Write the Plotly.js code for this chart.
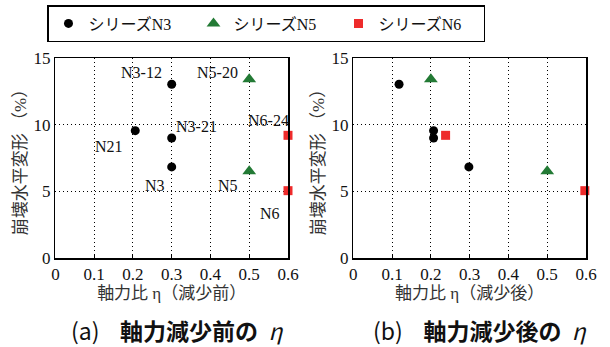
<!DOCTYPE html>
<html><head><meta charset="utf-8">
<script src="https://cdn.plot.ly/plotly-3.0.1.min.js"></script>
<style>body{margin:0;padding:0;background:#fff}#chart{width:610px;height:347px}</style>
</head><body><div id="chart"></div>
<script>
// Panel (a): axial force ratio before reduction
const n3_before_x = [0.206, 0.30, 0.30, 0.30];
const n3_before_y = [9.55, 13.03, 9.0, 6.83];
const n5_before_x = [0.50, 0.50];
const n5_before_y = [13.4, 6.5];
const n6_before_x = [0.60, 0.60];
const n6_before_y = [9.2, 5.05];
// Panel (b): axial force ratio after reduction
const n3_after_x = [0.118, 0.207, 0.207, 0.298];
const n3_after_y = [13.03, 9.55, 9.0, 6.83];
const n5_after_x = [0.20, 0.50];
const n5_after_y = [13.4, 6.5];
const n6_after_x = [0.238, 0.597];
const n6_after_y = [9.2, 5.05];

const seriesNames = ['シリーズN3', 'シリーズN5', 'シリーズN6'];
const pointLabels = ['N21', 'N3-12', 'N3-21', 'N3', 'N5-20', 'N5', 'N6-24', 'N6'];
const labelX = [0.139, 0.28, 0.307, 0.289, 0.475, 0.476, 0.549, 0.554];
const labelY = [8.35, 13.9, 9.85, 5.43, 13.9, 5.43, 10.3, 3.35];
const labelAnchor = ['center', 'right', 'left', 'right', 'right', 'right', 'center', 'center'];

const xTicks = [0, 0.1, 0.2, 0.3, 0.4, 0.5, 0.6];
const xTickText = ['0', '0.1', '0.2', '0.3', '0.4', '0.5', '0.6'];
const yTicks = [0, 5, 10, 15];

const FONT = 'Liberation Serif, Noto Sans CJK JP, serif';
const JFONT = 'Noto Sans CJK JP, sans-serif';
const GREEN = '#237a35', RED = '#ee2b2b';

const mk = {
  n3: {symbol: 'circle', size: 9, color: '#000'},
  n5: {symbol: 'triangle-up', size: 12, color: GREEN},
  n6: {symbol: 'square', size: 9, color: RED}
};

const base = {mode: 'markers', type: 'scatter', cliponaxis: false};
const traces = [
  Object.assign({x: n3_before_x, y: n3_before_y, name: seriesNames[0], marker: mk.n3, xaxis: 'x', yaxis: 'y'}, base),
  Object.assign({x: n5_before_x, y: n5_before_y, name: seriesNames[1], marker: mk.n5, xaxis: 'x', yaxis: 'y'}, base),
  Object.assign({x: n6_before_x, y: n6_before_y, name: seriesNames[2], marker: mk.n6, xaxis: 'x', yaxis: 'y'}, base),
  Object.assign({x: n3_after_x, y: n3_after_y, name: seriesNames[0], marker: mk.n3, xaxis: 'x2', yaxis: 'y2', showlegend: false}, base),
  Object.assign({x: n5_after_x, y: n5_after_y, name: seriesNames[1], marker: mk.n5, xaxis: 'x2', yaxis: 'y2', showlegend: false}, base),
  Object.assign({x: n6_after_x, y: n6_after_y, name: seriesNames[2], marker: mk.n6, xaxis: 'x2', yaxis: 'y2', showlegend: false}, base)
];

function xax(domain, title, anchor) {
  return {
    domain: domain, anchor: anchor, range: [0, 0.6], tickvals: xTicks, ticktext: xTickText,
    showgrid: true, gridcolor: '#000', griddash: '1px,3px', gridwidth: 1,
    showline: true, linecolor: '#000', linewidth: 1.5, mirror: true,
    ticks: 'inside', ticklen: 3, tickcolor: '#000', zeroline: false,
    tickfont: {family: FONT, size: 17, color: '#111'},
    title: {text: title, font: {family: FONT, size: 17, color: '#333'}, standoff: 2}
  };
}
function yax(domain, anchor) {
  return {
    domain: domain, anchor: anchor, range: [0, 15], tickvals: yTicks,
    showgrid: true, gridcolor: '#000', griddash: '1px,3px', gridwidth: 1,
    showline: true, linecolor: '#000', linewidth: 1.5, mirror: true,
    ticks: '', zeroline: false,
    tickfont: {family: FONT, size: 17, color: '#111'},
    title: {text: '崩壊水平変形 （%）', font: {family: FONT, size: 17, color: '#333'}, standoff: 2}
  };
}

const annotations = pointLabels.map((t, i) => ({
  x: labelX[i], y: labelY[i], xref: 'x', yref: 'y', text: t, showarrow: false,
  xanchor: labelAnchor[i], yanchor: 'middle', font: {family: FONT, size: 16, color: '#111'}
}));
annotations.push({
  x: 177 / 610, y: 17 / 347, xref: 'paper', yref: 'paper', xanchor: 'center', yanchor: 'middle',
  text: '(a)&nbsp;&nbsp;&nbsp;&nbsp;<b>軸力減少前の</b>&nbsp;&nbsp;<i>η</i>', showarrow: false, font: {family: JFONT, size: 23, color: '#111'}
});
annotations.push({
  x: 480 / 610, y: 17 / 347, xref: 'paper', yref: 'paper', xanchor: 'center', yanchor: 'middle',
  text: '(b)&nbsp;&nbsp;&nbsp;&nbsp;<b>軸力減少後の</b>&nbsp;&nbsp;<i>η</i>', showarrow: false, font: {family: JFONT, size: 23, color: '#111'}
});

const yDom = [(347 - 258) / 347, (347 - 58) / 347];
const layout = {
  width: 610, height: 347,
  margin: {l: 0, r: 0, t: 0, b: 0},
  paper_bgcolor: '#fff', plot_bgcolor: '#fff',
  showlegend: true,
  legend: {
    orientation: 'h', x: 47 / 610, y: 1 - 5 / 347, xanchor: 'left', yanchor: 'top',
    bordercolor: '#000', borderwidth: 1.5, bgcolor: '#fff',
    font: {family: FONT, size: 16, color: '#111'},
    entrywidth: 100, entrywidthmode: 'pixels', itemwidth: 30
  },
  xaxis: xax([55.4 / 610, 288 / 610], '軸力比 η（減少前）', 'y'),
  yaxis: yax(yDom, 'x'),
  xaxis2: xax([353.3 / 610, 586 / 610], '軸力比 η（減少後）', 'y2'),
  yaxis2: yax(yDom, 'x2'),
  annotations: annotations
};

Plotly.newPlot('chart', traces, layout, {displayModeBar: false, staticPlot: true});
</script></body></html>
